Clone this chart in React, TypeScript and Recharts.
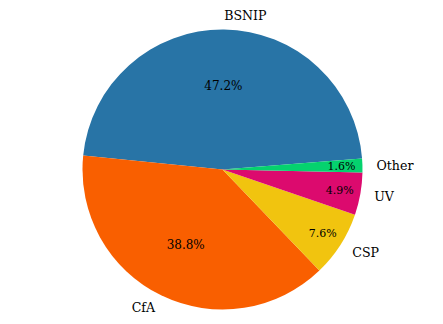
import { PieChart, Pie, Cell } from "recharts";

const surveys = ["BSNIP", "CfA", "CSP", "UV", "Other"];
const shares = [47.2, 38.8, 7.6, 4.9, 1.6];
const colors = ["#2874a6", "#f95f00", "#f1c40f", "#dc0a6e", "#05d26e"];

const data = surveys.map((name, i) => ({ name, value: shares[i] }));

const RAD = Math.PI / 180;

function renderLabel(props: any) {
  const { cx, cy, midAngle, outerRadius, index } = props;
  const cos = Math.cos(-midAngle * RAD);
  const sin = Math.sin(-midAngle * RAD);
  // outer label at 1.1 r, anchored like matplotlib (left/right by side)
  const lx = cx + outerRadius * 1.1 * cos;
  const ly = cy + outerRadius * 1.1 * sin;
  // percentage: big slices at 0.6 r, thin ones pushed out toward the rim
  const small = shares[index] < 10;
  const k = small ? 0.85 : 0.6;
  const px = cx + outerRadius * k * cos;
  const py = cy + outerRadius * k * sin;
  return (
    <g>
      <text
        x={lx}
        y={ly}
        textAnchor={cos > 0 ? "start" : "end"}
        dominantBaseline="central"
        fontFamily="DejaVu Serif"
        fontSize={12.6}
        fill="#000"
      >
        {surveys[index]}
      </text>
      <text
        x={px}
        y={py}
        textAnchor="middle"
        dominantBaseline="central"
        fontFamily="DejaVu Serif"
        fontSize={small ? 11 : 12}
        fill="#000"
      >
        {shares[index].toFixed(1)}%
      </text>
    </g>
  );
}

export default function App() {
  return (
    <div style={{ position: "absolute", left: 0, top: 0, background: "#fff" }}>
      <PieChart
        width={443}
        height={324}
        margin={{ top: 0, right: 0, bottom: 0, left: 0 }}
      >
        <Pie
          data={data}
          dataKey="value"
          cx={222.5}
          cy={169.5}
          outerRadius={140}
          startAngle={4.5}
          endAngle={364.5}
          stroke="none"
          label={renderLabel}
          labelLine={false}
          isAnimationActive={false}
        >
          {data.map((d, i) => (
            <Cell key={d.name} fill={colors[i]} />
          ))}
        </Pie>
      </PieChart>
    </div>
  );
}
